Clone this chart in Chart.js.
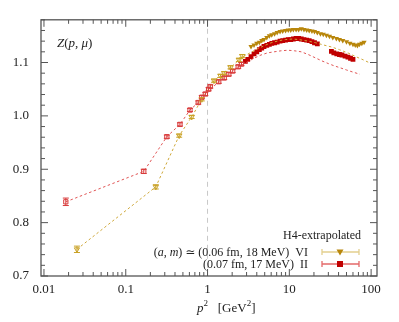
<!DOCTYPE html>
<html>
<head>
<meta charset="utf-8">
<script src="https://cdn.jsdelivr.net/npm/chart.js@4/dist/chart.umd.min.js"></script>
<style>html,body{margin:0;padding:0;background:#fff}</style>
</head>
<body>
<canvas id="chart" width="399" height="322"></canvas>
<script>
// ensemble II (red), low momenta: open squares
const redOpenP2 = [0.0185, 0.166, 0.318, 0.46, 0.61, 0.77, 0.85, 0.94, 1.03, 1.08, 1.37, 1.6, 1.82, 2.03, 2.37, 2.6];
const redOpenZ  = [0.839, 0.896, 0.961, 0.984, 1.011, 1.025, 1.035, 1.041, 1.050, 1.055, 1.064, 1.071, 1.078, 1.084, 1.092, 1.097];
const redOpenErr = [0.007, 0.004, 0.003, 0.003, 0.003, 0.003, 0.003, 0.003, 0.003, 0.003, 0.003, 0.003, 0.003, 0.003, 0.003, 0.003];

// ensemble VI (gold), low momenta: open triangles
const goldOpenP2 = [0.0253, 0.233, 0.45, 0.64, 0.85, 1.2, 1.44, 1.6, 1.91, 2.42, 2.66];
const goldOpenZ  = [0.750, 0.867, 0.963, 0.998, 1.031, 1.066, 1.075, 1.080, 1.091, 1.105, 1.112];
const goldOpenErr = [0.006, 0.004, 0.003, 0.003, 0.003, 0.003, 0.003, 0.003, 0.003, 0.003, 0.003];

// high momenta: filled markers
const redP2 = [2.9, 3.1, 3.4, 3.7, 4.0, 4.3, 4.6, 4.9, 5.3, 5.7, 6.1, 6.6, 7.1, 7.7, 8.3, 9.0, 9.7, 10.4, 11.2, 12.1, 13.0, 14.0, 15.1, 16.3, 17.5, 18.9, 20.3, 22, 32.7, 35, 38, 41, 44, 48, 52, 56, 60];
const redZ  = [1.102, 1.106, 1.111, 1.116, 1.120, 1.124, 1.127, 1.130, 1.132, 1.134, 1.136, 1.137, 1.138, 1.140, 1.141, 1.142, 1.143, 1.143, 1.144, 1.145, 1.145, 1.144, 1.143, 1.142, 1.141, 1.139, 1.137, 1.135, 1.121, 1.118, 1.116, 1.115, 1.114, 1.112, 1.110, 1.108, 1.106];

const goldP2 = [3.4, 3.7, 4.0, 4.3, 4.6, 4.9, 5.3, 5.7, 6.1, 6.6, 7.1, 7.7, 8.3, 9.0, 9.7, 10.4, 11.2, 12.1, 13.0, 14.0, 15.1, 16.3, 17.5, 18.9, 20.3, 22, 24, 26, 28.4, 31, 34, 37.6, 41, 45, 50, 55, 60, 64, 68, 72, 77, 82];
const goldZ  = [1.130, 1.133, 1.136, 1.138, 1.141, 1.143, 1.147, 1.150, 1.152, 1.154, 1.156, 1.158, 1.159, 1.160, 1.161, 1.161, 1.162, 1.162, 1.162, 1.163, 1.162, 1.161, 1.160, 1.159, 1.158, 1.156, 1.154, 1.153, 1.151, 1.149, 1.147, 1.145, 1.143, 1.141, 1.139, 1.136, 1.134, 1.133, 1.132, 1.134, 1.136, 1.138];

// dashed curves (straight segments between the low points, fit curve above)
const redLineP2 = [0.0185, 0.166, 0.318, 0.46, 0.61, 0.77, 0.94, 1.37, 1.82, 2.37, 3.07, 3.7, 4.5, 5.4, 6.5, 8, 9.6, 11.5, 14, 17, 20, 25, 30, 35, 42, 50, 60, 73];
const redLineZ  = [0.839, 0.896, 0.961, 0.984, 1.011, 1.025, 1.041, 1.064, 1.078, 1.092, 1.101, 1.108, 1.114, 1.118, 1.120, 1.122, 1.123, 1.122, 1.120, 1.115, 1.110, 1.103, 1.098, 1.094, 1.090, 1.086, 1.082, 1.078];
const goldLineP2 = [0.0253, 0.233, 0.45, 0.64, 0.85, 1.2, 1.91, 2.66, 3.3, 4, 5, 6, 7.5, 9, 11, 13, 17, 21, 26, 33, 41, 52, 65, 80, 97];
const goldLineZ  = [0.750, 0.867, 0.963, 0.998, 1.031, 1.066, 1.091, 1.110, 1.118, 1.125, 1.132, 1.137, 1.141, 1.143, 1.144, 1.143, 1.140, 1.137, 1.133, 1.129, 1.124, 1.118, 1.111, 1.105, 1.099];

const RED = '#c00000';
const RED_LIGHT = '#d83a3a';
const GOLD = '#b8860b';
const GOLD_LIGHT = '#c9a227';

const SERIF = '"Liberation Serif", "DejaVu Serif", serif';

function pts(xs, ys) {
    return xs.map(function (x, i) { return {x: x, y: ys[i]}; });
}

function isDecade(v) {
    const l = Math.log10(v);
    return Math.abs(l - Math.round(l)) < 1e-9;
}

function drawPieces(ctx, pieces, x, y, align) {
    // pieces: [text, italic, size, dy]
    let total = 0;
    pieces.forEach(function (p) {
        ctx.font = (p[1] ? 'italic ' : '') + (p[2] || 12) + 'px ' + SERIF;
        p.w = ctx.measureText(p[0]).width;
        total += p.w;
    });
    let cx = align === 'right' ? x - total : x;
    ctx.textAlign = 'left';
    pieces.forEach(function (p) {
        ctx.font = (p[1] ? 'italic ' : '') + (p[2] || 12) + 'px ' + SERIF;
        ctx.fillText(p[0], cx, y + (p[3] || 0));
        cx += p.w;
    });
}

const decor = {
    id: 'decor',
    beforeDatasetsDraw(chart) {
        const {ctx, chartArea: a, scales: {x}} = chart;
        const px = x.getPixelForValue(1);
        ctx.save();
        ctx.strokeStyle = '#c8c8c8';
        ctx.lineWidth = 1;
        ctx.setLineDash([5, 4]);
        ctx.beginPath();
        ctx.moveTo(px, a.top);
        ctx.lineTo(px, a.bottom);
        ctx.stroke();
        ctx.restore();
    },
    afterDatasetsDraw(chart) {
        const {ctx, scales: {x, y}} = chart;
        ctx.save();
        chart.data.datasets.forEach(function (ds) {
            if (!ds.errors) return;
            ctx.strokeStyle = ds.borderColor;
            ctx.lineWidth = 1;
            ds.data.forEach(function (p, i) {
                const px = x.getPixelForValue(p.x);
                const y1 = y.getPixelForValue(p.y - ds.errors[i]);
                const y2 = y.getPixelForValue(p.y + ds.errors[i]);
                ctx.beginPath();
                ctx.moveTo(px, y1); ctx.lineTo(px, y2);
                ctx.moveTo(px - 3, y1); ctx.lineTo(px + 3, y1);
                ctx.moveTo(px - 3, y2); ctx.lineTo(px + 3, y2);
                ctx.stroke();
            });
        });
        ctx.restore();
    },
    afterDraw(chart) {
        const {ctx, chartArea: a, scales: {x, y}} = chart;
        ctx.save();
        ctx.strokeStyle = '#555';
        ctx.lineWidth = 1.3;
        ctx.strokeRect(a.left, a.top, a.right - a.left, a.bottom - a.top);

        // inward ticks on all four sides
        ctx.lineWidth = 1;
        ctx.beginPath();
        x.ticks.forEach(function (t) {
            const px = x.getPixelForValue(t.value);
            const len = isDecade(t.value) ? 7 : 4;
            ctx.moveTo(px, a.bottom); ctx.lineTo(px, a.bottom - len);
            ctx.moveTo(px, a.top); ctx.lineTo(px, a.top + len);
        });
        y.ticks.forEach(function (t) {
            const py = y.getPixelForValue(t.value);
            const major = Math.abs(t.value * 10 - Math.round(t.value * 10)) < 1e-6;
            const len = major ? 7 : 4;
            ctx.moveTo(a.left, py); ctx.lineTo(a.left + len, py);
            ctx.moveTo(a.right, py); ctx.lineTo(a.right - len, py);
        });
        ctx.stroke();

        // axis titles
        ctx.fillStyle = '#222';
        ctx.textBaseline = 'alphabetic';
        drawPieces(ctx, [['Z', true, 13], ['(', false, 13], ['p', true, 13], [', ', false, 13], ['μ', true, 13], [')', false, 13]], 57, 47, 'left');
        drawPieces(ctx, [['p', true, 13], ['2', false, 9, -6], ['   [GeV', false, 13], ['2', false, 9, -6], [']', false, 13]], 197, 312, 'left');

        // legend
        drawPieces(ctx, [['H4-extrapolated', false, 12]], 361, 239, 'right');
        drawPieces(ctx, [['(', false, 12], ['a', true, 12], [', ', false, 12], ['m', true, 12], [') ≃ (0.06 fm, 18 MeV)  VI', false, 12]], 308, 256, 'right');
        drawPieces(ctx, [['(0.07 fm, 17 MeV)  II', false, 12]], 308, 268, 'right');

        const rows = [
            {y: 252, line: '#e3cf8f', color: GOLD, tri: true},
            {y: 264, line: '#e46a6a', color: RED, tri: false}
        ];
        rows.forEach(function (r) {
            ctx.strokeStyle = r.line;
            ctx.lineWidth = 1.3;
            ctx.beginPath();
            ctx.moveTo(322, r.y); ctx.lineTo(359, r.y);
            ctx.moveTo(322, r.y - 3); ctx.lineTo(322, r.y + 3);
            ctx.moveTo(359, r.y - 3); ctx.lineTo(359, r.y + 3);
            ctx.stroke();
            ctx.fillStyle = r.color;
            if (r.tri) {
                ctx.beginPath();
                ctx.moveTo(336.5, r.y - 2.5); ctx.lineTo(343.5, r.y - 2.5); ctx.lineTo(340, r.y + 3.5);
                ctx.closePath();
                ctx.fill();
            } else {
                ctx.fillRect(337, r.y - 3, 6, 6);
            }
        });
        ctx.restore();
    }
};

Chart.defaults.font.family = SERIF;
Chart.defaults.font.size = 12;
Chart.defaults.color = '#222';

new Chart(document.getElementById('chart'), {
    type: 'scatter',
    data: {
        datasets: [
            {
                data: pts(redLineP2, redLineZ), showLine: true, pointRadius: 0,
                borderColor: '#e05555', borderWidth: 1, borderDash: [2.5, 2.5], tension: 0
            },
            {
                data: pts(goldLineP2, goldLineZ), showLine: true, pointRadius: 0,
                borderColor: '#cfa83a', borderWidth: 1, borderDash: [2.5, 2.5], tension: 0
            },
            {
                data: pts(redOpenP2, redOpenZ), errors: redOpenErr, pointStyle: 'rect', pointRadius: 3,
                borderColor: RED_LIGHT, backgroundColor: 'rgba(255,255,255,0.4)', borderWidth: 1
            },
            {
                data: pts(goldOpenP2, goldOpenZ), errors: goldOpenErr, pointStyle: 'triangle', rotation: 180,
                pointRadius: 3, borderColor: GOLD_LIGHT, backgroundColor: 'rgba(255,255,255,0.4)', borderWidth: 1
            },
            {
                data: pts(redP2, redZ), pointStyle: 'rect', pointRadius: 3.4,
                borderColor: RED, backgroundColor: RED, borderWidth: 0
            },
            {
                data: pts(goldP2, goldZ), pointStyle: 'triangle', rotation: 180, pointRadius: 3,
                borderColor: GOLD, backgroundColor: GOLD, borderWidth: 0
            }
        ]
    },
    options: {
        responsive: false,
        animation: false,
        layout: {padding: {left: 0, right: 22, top: 15, bottom: 0}},
        plugins: {legend: {display: false}, tooltip: {enabled: false}},
        scales: {
            x: {
                type: 'logarithmic',
                min: 0.0092,
                max: 118,
                grid: {display: false, drawTicks: false},
                border: {display: false},
                afterFit: function (s) { s.height = 46; },
                afterBuildTicks: function (s) {
                    const ticks = [];
                    [0.01, 0.1, 1, 10].forEach(function (d) {
                        for (let m = 1; m < 10; m++) ticks.push({value: m * d});
                    });
                    ticks.push({value: 100});
                    s.ticks = ticks;
                },
                ticks: {
                    autoSkip: false,
                    maxRotation: 0,
                    padding: 6,
                    font: {size: 13},
                    callback: function (v) {
                        return isDecade(v) ? String(parseFloat(v.toPrecision(3))) : '';
                    }
                }
            },
            y: {
                min: 0.7,
                max: 1.18,
                grid: {display: false, drawTicks: false},
                border: {display: false},
                afterFit: function (s) { s.width = 41; },
                ticks: {
                    stepSize: 0.02,
                    autoSkip: false,
                    padding: 12,
                    font: {size: 13},
                    callback: function (v) {
                        return Math.abs(v * 10 - Math.round(v * 10)) < 1e-6 ? v.toFixed(1) : '';
                    }
                }
            }
        }
    },
    plugins: [decor]
});
</script>
</body>
</html>
